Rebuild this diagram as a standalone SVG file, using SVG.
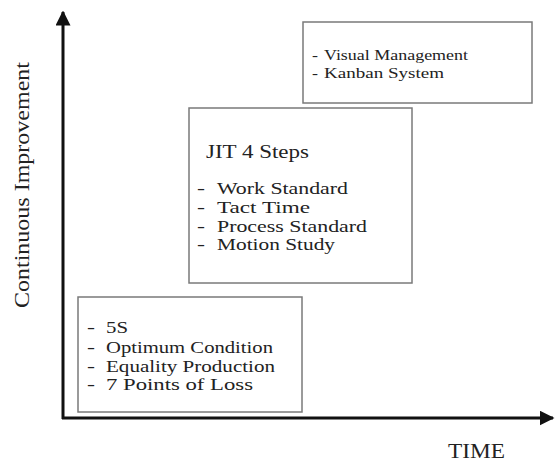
<svg xmlns="http://www.w3.org/2000/svg" width="558" height="464" viewBox="0 0 558 464">
  <style>
    .box { fill: #fff; stroke: #7a7a7a; stroke-width: 1.5; }
    .axis { stroke: #111; stroke-width: 3; fill: none; }
    text { font-family: 'Liberation Serif', 'Times New Roman', serif; fill: #222; }
    .s { font-size: 14px; }
    .m { font-size: 17px; }
  </style>
  <defs>
    <marker id="arrow" viewBox="0 0 10 10" refX="9" refY="5" markerWidth="5" markerHeight="5" markerUnits="strokeWidth" orient="auto">
      <path d="M0,0 L10,5 L0,10 Z" fill="#111"/>
    </marker>
  </defs>
  <rect width="558" height="464" fill="#fff"/>

  <!-- axes -->
  <g id="connectors">
    <line class="axis" x1="63" y1="419" x2="63" y2="12" marker-end="url(#arrow)"/>
    <line class="axis" x1="62" y1="418" x2="553" y2="418" marker-end="url(#arrow)"/>
  </g>

  <!-- axis titles -->
  <text id="y-label" transform="translate(29,185) rotate(-90)" text-anchor="middle" font-size="22" textLength="246" lengthAdjust="spacingAndGlyphs">Continuous Improvement</text>
  <text id="x-label" x="448" y="458" font-size="21" textLength="57" lengthAdjust="spacingAndGlyphs">TIME</text>

  <!-- top box -->
  <g id="node-visual">
    <rect class="box" x="303" y="22" width="229" height="81"/>
    <text class="s" x="312" y="60" textLength="6" lengthAdjust="spacingAndGlyphs">-</text>
    <text class="s" x="324" y="60" textLength="144" lengthAdjust="spacingAndGlyphs">Visual Management</text>
    <text class="s" x="312" y="78" textLength="6" lengthAdjust="spacingAndGlyphs">-</text>
    <text class="s" x="324" y="78" textLength="120" lengthAdjust="spacingAndGlyphs">Kanban System</text>
  </g>

  <!-- middle box -->
  <g id="node-jit">
    <rect class="box" x="189" y="108" width="223" height="175"/>
    <text x="206" y="158" font-size="18" textLength="103" lengthAdjust="spacingAndGlyphs">JIT 4 Steps</text>
    <text class="m" x="197" y="194" textLength="8" lengthAdjust="spacingAndGlyphs">-</text>
    <text class="m" x="217" y="194" textLength="131" lengthAdjust="spacingAndGlyphs">Work Standard</text>
    <text class="m" x="197" y="213" textLength="8" lengthAdjust="spacingAndGlyphs">-</text>
    <text class="m" x="217" y="213" textLength="93" lengthAdjust="spacingAndGlyphs">Tact Time</text>
    <text class="m" x="197" y="232" textLength="8" lengthAdjust="spacingAndGlyphs">-</text>
    <text class="m" x="217" y="232" textLength="150" lengthAdjust="spacingAndGlyphs">Process Standard</text>
    <text class="m" x="197" y="250" textLength="8" lengthAdjust="spacingAndGlyphs">-</text>
    <text class="m" x="217" y="250" textLength="118" lengthAdjust="spacingAndGlyphs">Motion Study</text>
  </g>

  <!-- bottom box -->
  <g id="node-basics">
    <rect class="box" x="78" y="297" width="224" height="115"/>
    <text class="m" x="87" y="333" textLength="8" lengthAdjust="spacingAndGlyphs">-</text>
    <text class="m" x="106" y="333" textLength="22" lengthAdjust="spacingAndGlyphs">5S</text>
    <text class="m" x="87" y="353" textLength="8" lengthAdjust="spacingAndGlyphs">-</text>
    <text class="m" x="106" y="353" textLength="167" lengthAdjust="spacingAndGlyphs">Optimum Condition</text>
    <text class="m" x="87" y="372" textLength="8" lengthAdjust="spacingAndGlyphs">-</text>
    <text class="m" x="106" y="372" textLength="169" lengthAdjust="spacingAndGlyphs">Equality Production</text>
    <text class="m" x="87" y="390" textLength="8" lengthAdjust="spacingAndGlyphs">-</text>
    <text class="m" x="106" y="390" textLength="147" lengthAdjust="spacingAndGlyphs">7 Points of Loss</text>
  </g>
</svg>
